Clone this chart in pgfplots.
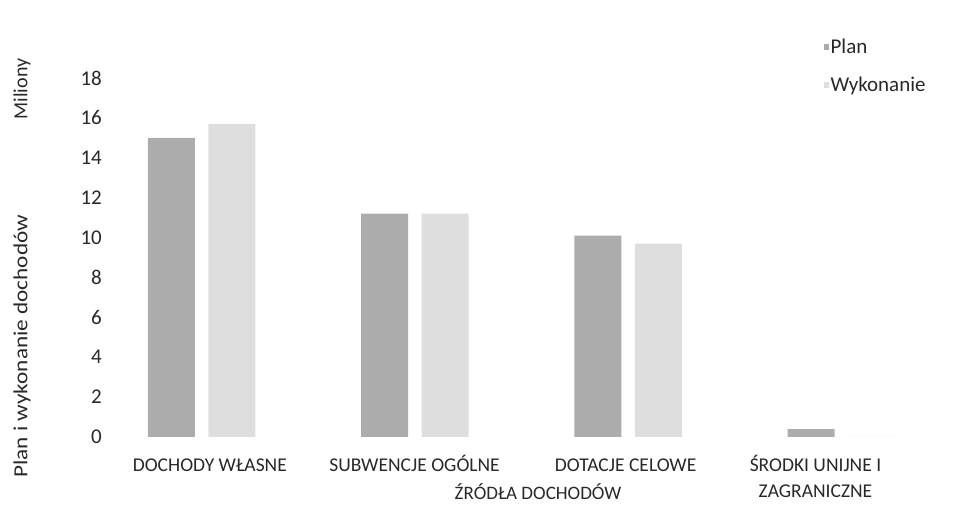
\documentclass[border=0pt]{standalone}
\usepackage{pgfplots}
\pgfplotsset{compat=1.18}
\usepackage{fontspec}
\setmainfont{Carlito}
\definecolor{planc}{RGB}{172,172,172}
\definecolor{wykc}{RGB}{222,222,222}
\definecolor{txt}{RGB}{40,40,40}
\begin{document}
\begin{tikzpicture}[x=1bp,y=1bp]
\useasboundingbox (0,0) rectangle (972,513);
\begin{axis}[
  at={(116bp,76bp)}, anchor=south west,
  scale only axis, width=821bp, height=359bp,
  xmin=-0.4, xmax=3.45, ymin=0, ymax=18,
  axis line style={draw=none},
  major tick length=0pt,
  ytick={0,2,...,18},
  xtick={0.04,1,1.99,2.88},
  xticklabels={\strut DOCHODY WŁASNE, \strut SUBWENCJE OGÓLNE, \strut DOTACJE CELOWE, {\strut ŚRODKI UNIJNE I\\ZAGRANICZNE}},
  font=\fontsize{20bp}{26bp}\selectfont,
  every tick label/.append style={text=txt},
  yticklabel style={anchor=east, inner sep=0pt, xshift=-14bp, font=\fontsize{21bp}{26bp}\selectfont},
  xticklabel style={anchor=north, inner sep=0pt, yshift=-16bp, align=center, font=\fontsize{19.5bp}{26bp}\selectfont},
  /pgf/number format/assume math mode=true,
  xlabel={ŹRÓDŁA DOCHODÓW},
  xlabel style={at={(axis description cs:0.514,0)}, anchor=center, yshift=-55bp, inner sep=0pt, text=txt, font=\fontsize{19bp}{24bp}\selectfont},
  legend style={at={(axis description cs:0.858,1.12)}, anchor=north west, draw=none, fill=none,
    font=\fontsize{21bp}{24bp}\selectfont, text=txt, row sep=18bp},
  legend cell align=left,
  legend image code/.code={\fill[#1] (0bp,-3bp) rectangle (5bp,3bp);},
]
\addplot[ybar, bar width=0.22, bar shift=-0.14, fill=planc, draw=none]
  coordinates {(0,15.0) (1,11.2) (2,10.1) (3,0.4)};
\addlegendentry{Plan}
\addplot[ybar, bar width=0.22, bar shift=0.143, fill=wykc, draw=none]
  coordinates {(0,15.7) (1,11.2) (2,9.7) (3,0)};
\addlegendentry{Wykonanie}
\end{axis}
\node[rotate=90, anchor=west, inner sep=0pt, text=txt, font=\fontsize{20bp}{24bp}\selectfont] at (22,35) {\scalebox{1.16}[1]{Plan i wykonanie dochodów}};
\node[rotate=90, anchor=center, inner sep=0pt, text=txt, font=\fontsize{20bp}{24bp}\selectfont] at (22,424) {Miliony};
\end{tikzpicture}
\end{document}
